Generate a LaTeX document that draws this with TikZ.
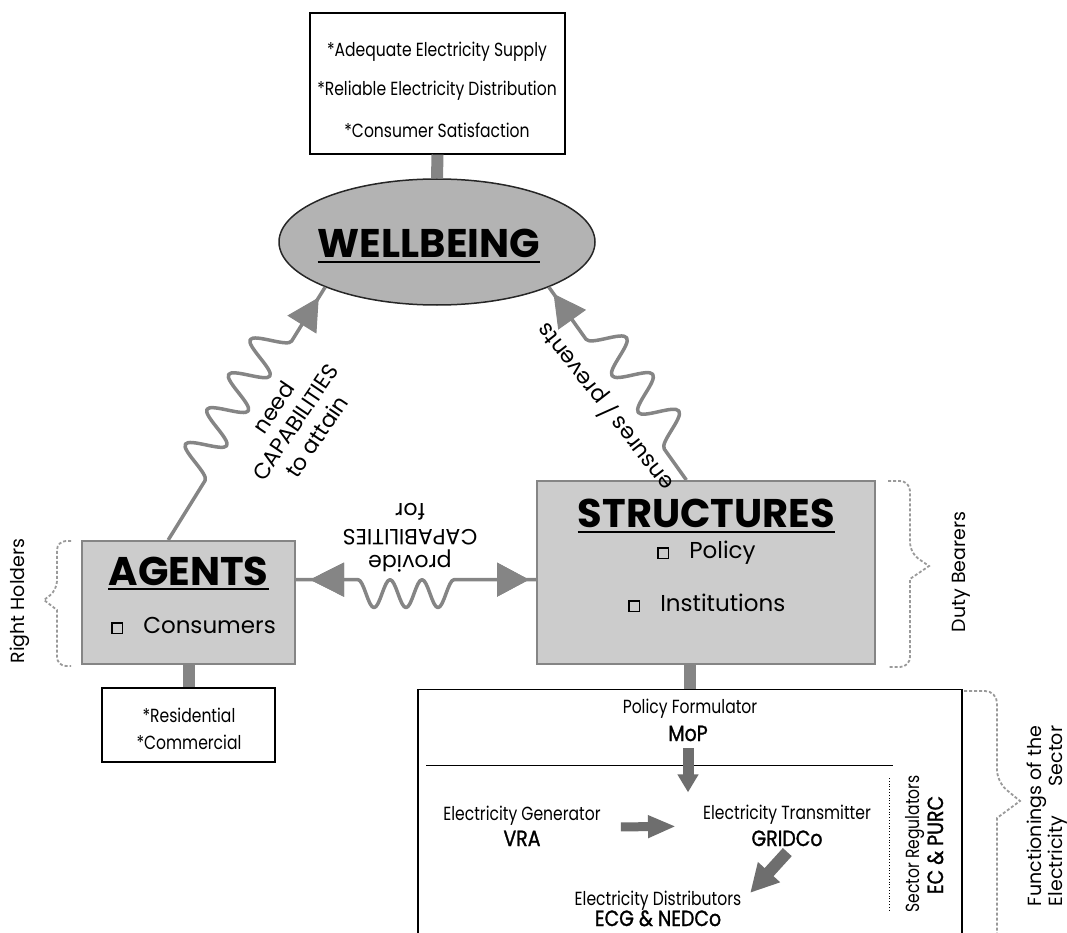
\documentclass[tikz,border=0pt]{standalone}
\usepackage{fontspec}
\setmainfont{Poppins}
\newfontfamily\lightfont[FakeStretch=0.82]{Poppins}
\newfontfamily\medfont[FakeStretch=0.86, FakeBold=1.2]{Poppins}
\usetikzlibrary{shapes.geometric, arrows.meta, decorations.pathmorphing, decorations.markings}
\definecolor{linkgray}{HTML}{858585}
\definecolor{boxgray}{HTML}{CCCCCC}
\definecolor{ovalgray}{HTML}{B3B3B3}
\definecolor{bracegray}{HTML}{9A9A9A}
\definecolor{arrowgray}{HTML}{6E6E6E}
\newcommand{\sqbox}{{\setlength{\fboxsep}{0pt}\setlength{\fboxrule}{1.3pt}\fbox{\rule{0pt}{9.5pt}\rule{9.5pt}{0pt}}}}
\pgfdeclaredecoration{bumps}{initial}{
  \state{initial}[width=\pgfdecorationsegmentlength]{
    \pgfpathcurveto{\pgfpoint{0.18\pgfdecorationsegmentlength}{0pt}}{\pgfpoint{0.32\pgfdecorationsegmentlength}{\pgfdecorationsegmentamplitude}}{\pgfpoint{0.5\pgfdecorationsegmentlength}{\pgfdecorationsegmentamplitude}}
    \pgfpathcurveto{\pgfpoint{0.68\pgfdecorationsegmentlength}{\pgfdecorationsegmentamplitude}}{\pgfpoint{0.82\pgfdecorationsegmentlength}{0pt}}{\pgfpoint{\pgfdecorationsegmentlength}{0pt}}
  }
  \state{final}{\pgfpathlineto{\pgfpointdecoratedpathlast}}
}

\begin{document}
\begin{tikzpicture}[x=1pt, y=-1pt,
    whitebox/.style={draw=black, line width=1.2pt, fill=white, inner sep=0pt},
    greybox/.style={draw=linkgray, line width=2pt, fill=boxgray, inner sep=0pt},
    bigtitle/.style={font=\fontsize{40}{48}\selectfont\bfseries, inner sep=0pt, anchor=base},
    item/.style={font=\fontsize{23}{28}\selectfont, inner sep=0pt, anchor=base west},
    light/.style={font=\fontsize{19}{23}\lightfont, inner sep=2pt, anchor=base},
    strong/.style={font=\fontsize{22}{25}\medfont, inner sep=2pt, anchor=base},
    side/.style={font=\fontsize{19}{21}\selectfont, rotate=90, inner sep=0pt},
    linklabel/.style={font=\fontsize{22}{26}\selectfont, align=center, inner sep=0pt},
    bar/.style={draw=linkgray, line width=12pt},
    uline/.style={line width=2pt},
    bracket/.style={draw=bracegray, line width=1.8pt, dash pattern=on 3pt off 2pt},
    wave/.style 2 args={draw=linkgray, line width=3.5pt, line join=round, decorate,
      decoration={bumps, amplitude=36pt, segment length=41pt, pre length=#1, post length=#2}},
    headat/.style={color=linkgray, line width=1pt, postaction=decorate,
      decoration={markings, mark=at position #1 with {\arrow{Triangle[length=32pt, width=34pt]}}}},
    tailat/.style={color=linkgray, line width=1pt, postaction=decorate,
      decoration={markings, mark=at position #1 with {\arrowreversed{Triangle[length=34pt, width=34pt]}}}},
    blockarrow/.style n args={3}{draw=arrowgray, line width=#1, -{Triangle[length=#2, width=#3]}}]

  \useasboundingbox (0,0) rectangle (1067,933);

  \node[whitebox, minimum width=255pt, minimum height=141pt] (goals) at (437.5,83.5) {};
  \node[light] (goal1) at (437,57) {*Adequate Electricity Supply};
  \node[light] (goal2) at (437,96) {*Reliable Electricity Distribution};
  \node[light] (goal3) at (437,138) {*Consumer Satisfaction};

  \node[ellipse, draw=black!85, line width=1.5pt, fill=ovalgray, minimum width=316pt, minimum height=126pt, inner sep=0pt] (wellbeing) at (437,242) {};
  \node[bigtitle] (wellbeingtxt) at (429,257) {WELLBEING};
  \draw[uline] ([yshift=-5pt]wellbeingtxt.base west) -- ([yshift=-5pt]wellbeingtxt.base east);
  \draw[bar] (goals.south) -- (wellbeing.north);

  \node[greybox, minimum width=213pt, minimum height=123pt] (agents) at (188.5,602.5) {};
  \node[bigtitle] (agentstxt) at (188.5,585) {AGENTS};
  \draw[uline] ([yshift=-4pt]agentstxt.base west) -- ([yshift=-4pt]agentstxt.base east);
  \node[item] (consumers) at (111,633) {\sqbox\hspace{20pt}Consumers};

  \node[greybox, minimum width=338pt, minimum height=183pt] (struct) at (706,572.5) {};
  \node[bigtitle] (structtxt) at (706.5,527) {STRUCTURES};
  \draw[uline] ([yshift=-5pt]structtxt.base west) -- ([yshift=-5pt]structtxt.base east);
  \node[item] (policy) at (657,558) {\sqbox\hspace{20pt}Policy};
  \node[item] (institutions) at (628,611) {\sqbox\hspace{20pt}Institutions};

  \node[whitebox, minimum width=173pt, minimum height=74pt] (residbox) at (188.5,725) {};
  \node[light] (resid) at (189,722) {*Residential};
  \node[light] (commerc) at (189,749) {*Commercial};
  \draw[bar] (agents.south) -- (residbox.north);

  \node[whitebox, minimum width=544pt, minimum height=260pt, anchor=north] (funcbox) at (690,689) {};
  \draw[bar] (funcbox.north) -- (funcbox.north |- struct.south);
  \node[light] (formulator) at (690,713) {Policy Formulator};
  \node[strong] (mop) at (688,741) {MoP};
  \draw[line width=1pt] (426,765) -- (893,765);
  \node[light] (generator) at (522,820) {Electricity Generator};
  \node[strong] (vra) at (522,846) {VRA};
  \node[light] (transmitter) at (787,819) {Electricity Transmitter};
  \node[strong] (gridco) at (787,846) {GRIDCo};
  \node[light] (distributors) at (658,905) {Electricity Distributors};
  \node[strong] (ecg) at (658,926) {ECG \& NEDCo};
  \draw[dotted, line width=0.8pt] (889,778) -- (889,910);
  \node[light, rotate=90] (regulators) at (919,844) {Sector Regulators};
  \node[strong, rotate=90] (ecpurc) at (943,845) {EC \& PURC};

  \draw[blockarrow={11pt}{18pt}{20pt}, shorten <=5pt, shorten >=10pt] (mop.south) -- (mop.south |- transmitter.north);
  \draw[blockarrow={9pt}{28pt}{21pt}, shorten <=18pt, shorten >=25pt] (generator.south east) -- (transmitter.south west);
  \draw[blockarrow={12pt}{28pt}{28pt}, shorten <=5pt, shorten >=10pt] (gridco.-70) -- (distributors.east);

  \draw[wave={70pt}{62pt}] (agents.108) -- (wellbeing.202);
  \path[headat=-12pt] (agents.108) -- (wellbeing.202);
  \draw[wave={38pt}{63pt}, decoration={amplitude=-34pt, segment length=45pt}] (struct.102) -- (wellbeing.338);
  \path[headat=-8pt] (struct.102) -- (wellbeing.338);
  \draw[wave={62pt}{51pt}, decoration={amplitude=-28pt, segment length=32pt}] (agents.12) -- (agents.12 -| struct.west);
  \path[tailat=14pt, headat=-7pt] (agents.12) -- (agents.12 -| struct.west);

  \node[linklabel, rotate=56] (needcap) at (295,422) {need\\CAPABILITIES\\to attain};
  \node[linklabel, rotate=128] (ensures) at (605,407) {ensures / prevents};
  \node[linklabel, rotate=180] (providecap) at (410,538) {provide\\CAPABILITIES\\for};

  \draw[bracket, rounded corners=9pt] (71,541) -- (57,541) -- (57,590) [sharp corners] -- (44,600) -- (57,610) [rounded corners=9pt] -- (57,666) -- (71,666);
  \draw[bracket, rounded corners=10pt] (888,481) -- (910,481) -- (910,553) [sharp corners] -- (929,566) -- (910,579) [rounded corners=10pt] -- (910,667) -- (888,667);
  \draw[bracket, rounded corners=12pt] (964,691) -- (997,691) -- (997,782) [sharp corners] -- (1020,801) -- (997,818) [rounded corners=12pt] -- (997,945);

  \node[side] (rightholders) at (20,601) {Right Holders};
  \node[side] (dutybearers) at (961,572) {Duty Bearers};
  \node[side, align=center] (functionings) at (1047,816) {Functionings of the\\Electricity\hfill Sector};
\end{tikzpicture}
\end{document}
